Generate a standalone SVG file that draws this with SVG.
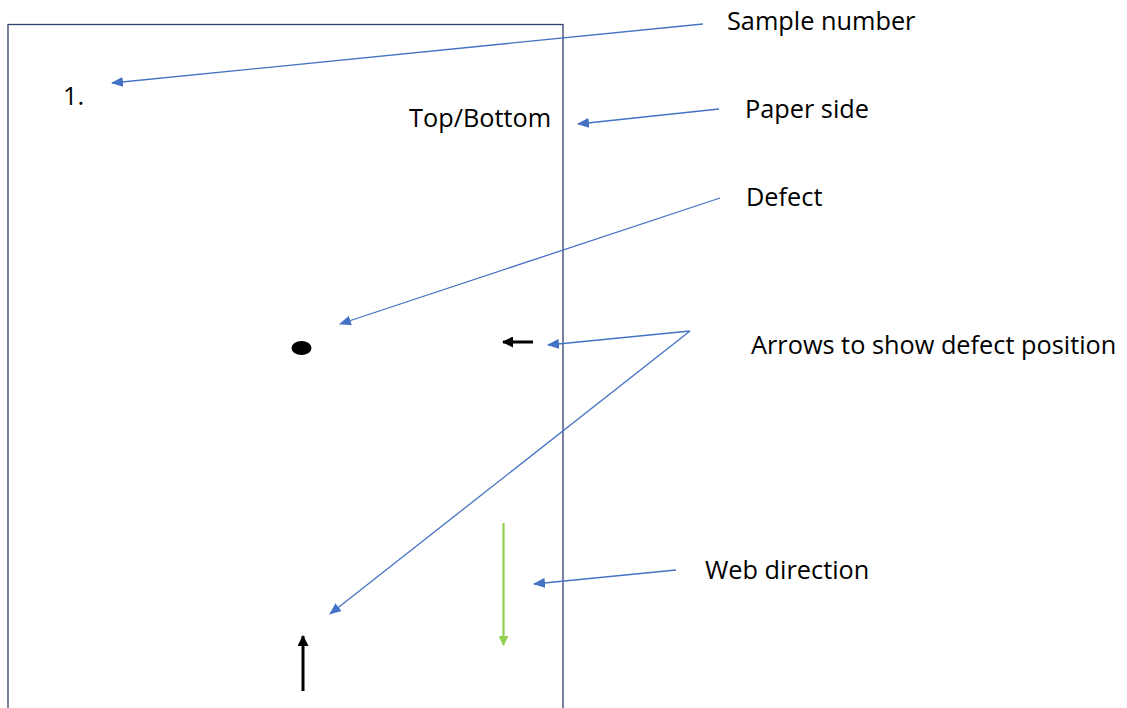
<svg xmlns="http://www.w3.org/2000/svg" width="1127" height="708" viewBox="0 0 1127 708">
<style>
text{font-family:"Open Sans","Noto Sans","Liberation Sans",sans-serif;font-size:25.3px;fill:#000}
.lead{stroke:#4472C4;stroke-width:1.3;fill:none;marker-end:url(#blue)}
.blk{stroke:#000;stroke-width:3;fill:none;marker-end:url(#black)}
.grn{stroke:#92D050;stroke-width:2.2;fill:none;marker-end:url(#green)}
</style>
<defs>
<marker id="blue" markerUnits="userSpaceOnUse" markerWidth="12" markerHeight="10" refX="11" refY="5" orient="auto"><path d="M0,0 L12,5 L0,10 Z" fill="#4472C4"/></marker>
<marker id="black" markerUnits="userSpaceOnUse" markerWidth="11" markerHeight="11" refX="10" refY="5.5" orient="auto"><path d="M0,0 L11,5.5 L0,11 Z" fill="#000"/></marker>
<marker id="green" markerUnits="userSpaceOnUse" markerWidth="10" markerHeight="10" refX="9" refY="5" orient="auto"><path d="M0,0 L10,5 L0,10 Z" fill="#92D050"/></marker>
</defs>
<rect width="1127" height="708" fill="#fff"/>
<g id="sheet">
<rect x="8" y="24.5" width="555" height="700" fill="none" stroke="#2F3F6E" stroke-width="1.3"/>
<text x="63" y="105">1.</text>
<text x="409" y="127">Top/Bottom</text>
<ellipse cx="301.5" cy="348" rx="10" ry="7" fill="#000"/>
</g>
<g id="marks">
<line class="blk" x1="533" y1="342" x2="503" y2="342"/>
<line class="blk" x1="303" y1="691" x2="303" y2="636"/>
<line class="grn" x1="503.5" y1="523" x2="503.5" y2="645"/>
</g>
<g id="label-sample"><text x="727" y="30">Sample number</text></g>
<g id="label-paper"><text x="745" y="118">Paper side</text></g>
<g id="label-defect"><text x="746" y="206">Defect</text></g>
<g id="label-arrows"><text x="751" y="354">Arrows to show defect position</text></g>
<g id="label-web"><text x="705" y="579">Web direction</text></g>
<g id="connectors">
<line class="lead" x1="703" y1="24" x2="112" y2="83"/>
<line class="lead" x1="719" y1="109" x2="578" y2="124"/>
<line class="lead" x1="720" y1="198" x2="340" y2="324"/>
<line class="lead" x1="690" y1="331" x2="548" y2="345"/>
<line class="lead" x1="690" y1="331" x2="330" y2="614"/>
<line class="lead" x1="676" y1="570" x2="534" y2="584"/>
</g>
</svg>
